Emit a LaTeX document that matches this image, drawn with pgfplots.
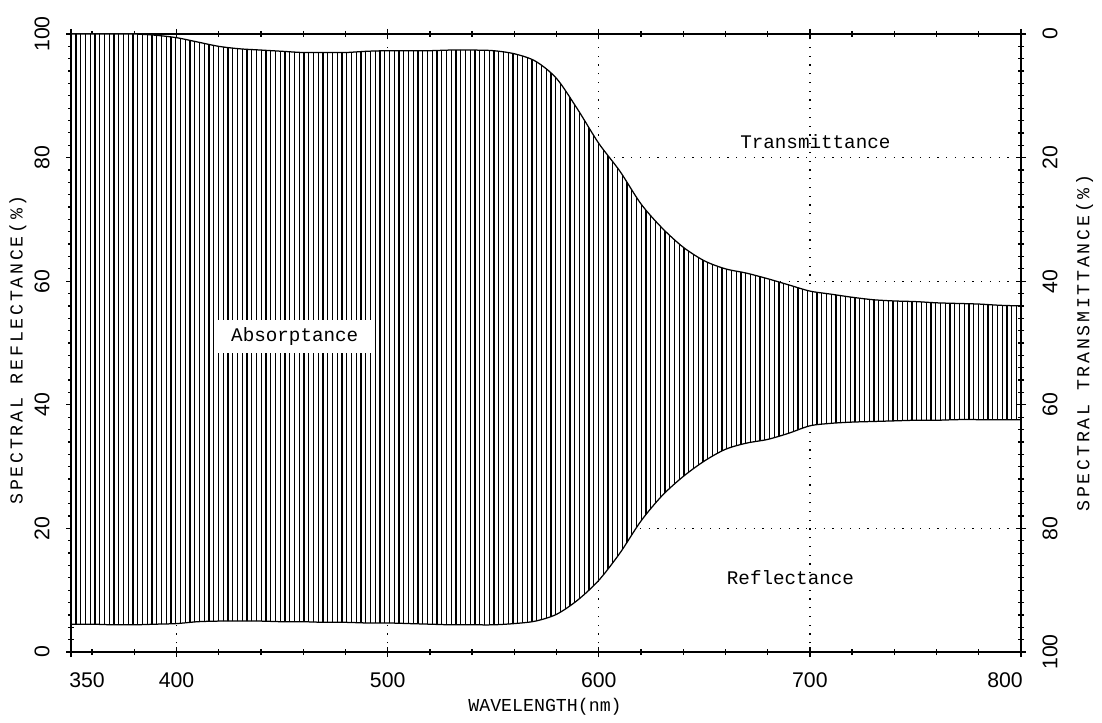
\documentclass[border=0pt]{standalone}
\usepackage{pgfplots}
\pgfplotsset{compat=1.18}
\usepackage{pgfplotstable}
\usepgfplotslibrary{fillbetween}
\usetikzlibrary{patterns.meta}
\usepackage{fontspec}
\setmainfont{Liberation Sans}
\newfontfamily\monofont{Liberation Mono}
\newfontfamily\labfont[LetterSpace=15]{Liberation Mono}

\pgfplotstableread{
wl up lo
350 100 4.5
360 100 4.5
370 100 4.4
380 100 4.4
390 99.8 4.5
400 99.4 4.6
410 98.7 4.9
420 98.0 5.0
430 97.6 5.0
440 97.4 5.0
450 97.2 4.9
460 97.0 4.9
470 97.0 4.8
480 97.0 4.8
490 97.2 4.7
500 97.3 4.7
510 97.3 4.6
520 97.3 4.5
530 97.4 4.4
540 97.4 4.4
550 97.3 4.4
560 96.8 4.6
570 95.6 5.0
580 92.8 6.1
590 87.8 8.4
600 82.3 11.6
610 77.8 16.0
620 72.5 21.2
630 68.6 25.3
640 65.5 28.4
650 63.3 30.9
660 62.0 32.8
670 61.3 33.8
680 60.4 34.4
690 59.4 35.4
700 58.4 36.6
710 57.9 37.0
720 57.4 37.2
730 57.0 37.3
740 56.8 37.4
750 56.7 37.5
760 56.5 37.5
770 56.4 37.6
780 56.3 37.6
790 56.1 37.6
800 56.0 37.6
}\datatable

\begin{document}
\begin{tikzpicture}
\begin{axis}[name=ax,
  scale only axis, width=380pt, height=247.2pt,
  xmin=350, xmax=800, ymin=0, ymax=100,
  axis line style={line width=0.6pt},
  xtick={350,400,500,600,700,800},
  xticklabels={{\hspace*{12.8pt}350},400,500,600,700,{800\hspace*{12.8pt}}},
  minor xtick={360,380,420,440,460,480,520,540,560,580,620,640,660,680,720,740,760,780},
  ytick={0,20,40,60,80,100},
  minor ytick={2,4,...,98},
  xtick pos=both, xticklabel pos=bottom,
  ytick pos=left,
  tick align=center,
  major tick length=4pt, minor tick length=2.4pt,
  tick style={black, line width=0.5pt},
  grid=major,
  major grid style={black, line width=0.5pt, dash pattern=on 0.5pt off 3pt},
  /pgf/number format/assume math mode=true,
  tick label style={font=\fontsize{8.5}{10}\selectfont},
  xticklabel style={anchor=center, yshift=-9.2pt},
  yticklabel style={xshift=-9.6pt, rotate=90, anchor=center},
  xlabel={WAVELENGTH(nm)},
  xlabel style={font=\monofont\fontsize{7.3}{8}\selectfont, at={(axis description cs:0.499,-0.088)}, anchor=center},
  ylabel={SPECTRAL REFLECTANCE(\%)},
  ylabel style={font=\labfont\fontsize{7.3}{8}\selectfont, at={(axis description cs:-0.0558,0.489)}, anchor=center},
]
\addplot[name path=up, draw=black, line width=0.5pt, smooth] table[x=wl,y=up]{\datatable};
\addplot[name path=lo, draw=black, line width=0.5pt, smooth] table[x=wl,y=lo]{\datatable};
\addplot[fill=white, draw=none] fill between[of=up and lo];
\addplot[draw=none, pattern={Lines[angle=90,distance=1.9pt,line width=0.5pt]}] fill between[of=up and lo];
\node[font=\monofont\fontsize{7.7}{9}\selectfont, fill=white, inner xsep=5.8pt, inner ysep=3pt] at (axis cs:456,51.1) {Absorptance};
\node[font=\monofont\fontsize{7.7}{9}\selectfont] at (axis cs:702.6,82.6) {Transmittance};
\node[font=\monofont\fontsize{7.7}{9}\selectfont] at (axis cs:690.8,12.0) {Reflectance};
\end{axis}
\begin{axis}[
  scale only axis, width=380pt, height=247.2pt,
  xmin=350, xmax=800, ymin=0, ymax=100,
  y dir=reverse,
  axis x line=none, axis y line*=right,
  axis line style={line width=0.6pt, -},
  ytick={0,20,40,60,80,100},
  minor ytick={2,4,...,98},
  tick align=center,
  major tick length=4pt, minor tick length=2.4pt,
  tick style={black, line width=0.5pt},
  /pgf/number format/assume math mode=true,
  tick label style={font=\fontsize{8.5}{10}\selectfont},
  yticklabel style={xshift=9.6pt, rotate=90, anchor=center},
  ylabel={SPECTRAL TRANSMITTANCE(\%)},
  ylabel style={font=\labfont\fontsize{7.3}{8}\selectfont, at={(axis description cs:1.067,0.5)}, anchor=center},
]
\addplot[draw=none] coordinates {(350,0)};
\end{axis}
\pgfresetboundingbox
\path (ax.south west) +(-28.4pt,-28pt) rectangle +(412.4pt,260.8pt);
\end{tikzpicture}
\end{document}
